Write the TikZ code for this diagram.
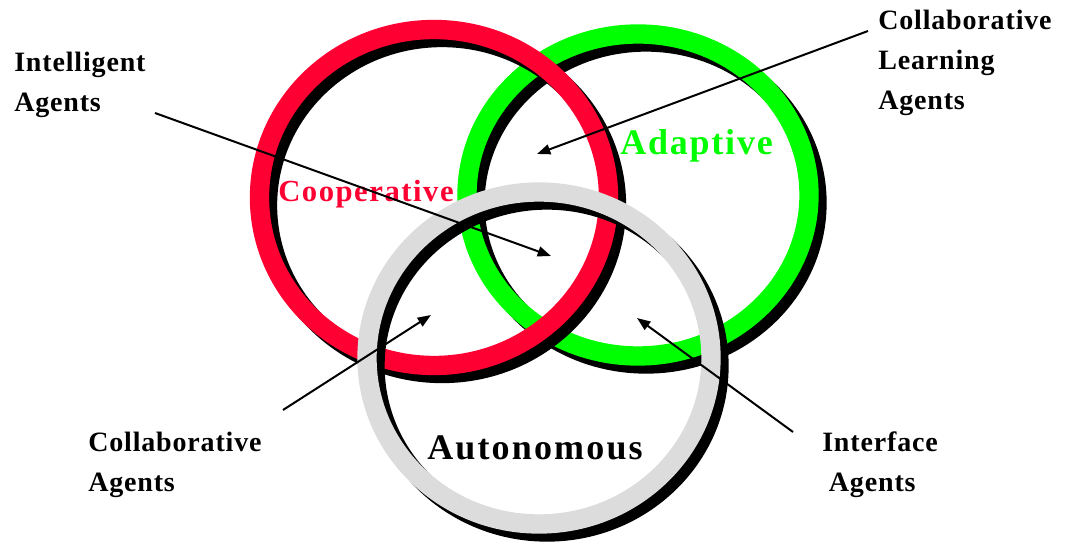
\documentclass[tikz,border=0pt]{standalone}
\usepackage{fontspec}
\setmainfont{Liberation Serif}
\usetikzlibrary{arrows.meta,calc}
\definecolor{ringred}{HTML}{FF0033}
\definecolor{ringgreen}{HTML}{00FF00}
\definecolor{ringgray}{HTML}{DCDCDC}

\begin{document}
\begin{tikzpicture}[x=0.75pt,y=-0.75pt,>={Triangle[length=10pt,width=7.5pt]},
  ring/.style={line width=14.5pt},
  ringshadow/.style={line width=14.5pt,black,shift={(8,8)}},
  tag/.style={inner sep=0pt,align=left,anchor=north west,font=\fontsize{21}{30}\selectfont\bfseries\addfontfeature{LetterSpace=3}},
  big/.style={inner sep=0pt,anchor=base west}]
\useasboundingbox (0,0) rectangle (1065,548);
% the three rings, each with its shadow
\draw[ringshadow] (638,195) ellipse [x radius=171,y radius=161];
\draw[ring,ringgreen] (638,195) ellipse [x radius=171,y radius=161];
\draw[ringshadow] (434,197.5) ellipse [x radius=174.5,y radius=168];
\draw[ring,ringred] (434,197.5) ellipse [x radius=174.5,y radius=168];
\draw[ringshadow] (539,358) ellipse [x radius=172,y radius=166];
\draw[ring,ringgray] (539,358) ellipse [x radius=172,y radius=166];
% ring names
\node[big,text=ringred,font=\fontsize{23}{26}\selectfont\bfseries\addfontfeature{LetterSpace=5}] (coop) at (278,202) {Cooperative};
\node[big,text=ringgreen,font=\fontsize{27}{30}\selectfont\bfseries\addfontfeature{LetterSpace=5}] (adapt) at (620,155) {Adaptive};
\node[big,font=\fontsize{27}{30}\selectfont\bfseries\addfontfeature{LetterSpace=6}] (auto) at (427,460) {Autonomous};
% agent labels
\node[tag] (intel) at (14,52) {Intelligent\\Agents};
\node[tag] (learn) at (878,10) {Collaborative\\Learning\\Agents};
\node[tag] (collab) at (88,432) {Collaborative\\Agents};
\node[tag] (iface) at (822,432) {Interface\\\hspace{5pt}Agents};
% arrows into the overlaps
\coordinate (intelT) at (155,113); \coordinate (intelH) at (551,256);
\coordinate (learnT) at (868,31); \coordinate (learnH) at (537,154);
\coordinate (collabT) at (283,410); \coordinate (collabH) at (431,315);
\coordinate (ifaceT) at (793,432); \coordinate (ifaceH) at (637,318);
\draw[->,line width=1.5pt] (intelT)--(intelH);
\draw[->,line width=1.5pt] (learnT)--(learnH);
\draw[->,line width=1.5pt] (collabT)--(collabH);
\draw[->,line width=1.5pt] (ifaceT)--(ifaceH);
\end{tikzpicture}
\end{document}
